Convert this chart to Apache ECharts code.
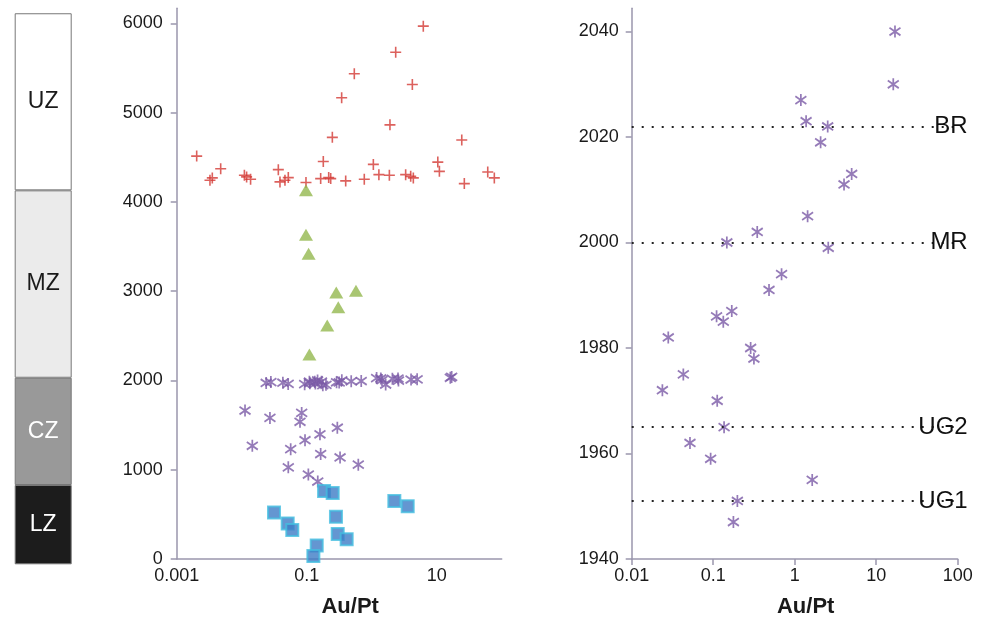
<!DOCTYPE html>
<html><head><meta charset="utf-8">
<script src="https://cdn.jsdelivr.net/npm/echarts@6/dist/echarts.min.js"></script>
<style>html,body{margin:0;padding:0;background:#fff}#c{width:987px;height:623px}</style>
</head><body><div id="c"></div>
<script>
// ---- data ----
const zoneNames = ['LZ', 'CZ', 'MZ', 'UZ'];
const zoneThickness = [880, 1190, 2080, 1965];
const zoneColors = ['#1c1c1c', '#999999', '#ebebeb', '#ffffff'];
const zoneLabelColors = ['#ffffff', '#ffffff', '#1a1a1a', '#1a1a1a'];

// Upper zone (red +)
const upperZone = [
  [0.00203, 4514], [0.00325, 4243], [0.00353, 4270], [0.00475, 4373], [0.011, 4299],
  [0.0119, 4281], [0.0137, 4254], [0.0366, 4362], [0.0388, 4225], [0.0463, 4243],
  [0.0521, 4273], [0.0975, 4218], [0.164, 4262], [0.18, 4454], [0.218, 4273],
  [0.234, 4262], [0.248, 4724], [0.345, 5168], [0.398, 4236], [0.54, 5437],
  [0.769, 4254], [1.06, 4421], [1.29, 4306], [1.87, 4299], [1.91, 4864],
  [2.34, 5678], [3.33, 4306], [3.98, 4287], [4.37, 4270], [4.22, 5316],
  [6.22, 5970], [10.4, 4447], [11.0, 4343], [24.3, 4694], [26.6, 4206],
  [61, 4336], [77, 4270]
];
// Main zone (green triangles)
const mainZone = [
  [0.0975, 4132], [0.0975, 3633], [0.107, 3419], [0.285, 2987], [0.573, 3005],
  [0.306, 2820], [0.207, 2617], [0.11, 2291]
];
// Critical zone below UG1 (purple asterisks)
const criticalZone = [
  [0.01125, 1663], [0.01456, 1268], [0.0272, 1581], [0.0567, 1231], [0.0521, 1027],
  [0.0837, 1637], [0.0789, 1537], [0.0942, 1331], [0.106, 946], [0.148, 868],
  [0.16, 1397], [0.164, 1176], [0.296, 1471], [0.326, 1138], [0.622, 1057]
];
// Upper critical zone UG1–BR interval (purple asterisks; detail on right)
const ugInterval = [
  [17.0, 2040], [16.2, 2030], [1.19, 2027], [1.38, 2023], [2.54, 2022],
  [2.08, 2019], [4.03, 2011], [5.0, 2013], [1.44, 2005], [0.347, 2002],
  [0.147, 2000], [2.58, 1999], [0.69, 1994], [0.484, 1991], [0.169, 1987],
  [0.110, 1986], [0.133, 1985], [0.0281, 1982], [0.288, 1980], [0.316, 1978],
  [0.043, 1975], [0.0238, 1972], [0.112, 1970], [0.136, 1965], [0.0519, 1962],
  [0.093, 1959], [1.64, 1955], [0.198, 1951], [0.177, 1947]
];
// Lower zone (blue squares)
const lowerZone = [
  [0.0314, 521], [0.051, 399], [0.06, 325], [0.1426, 151], [0.1267, 33],
  [0.185, 761], [0.251, 739], [0.282, 473], [0.3, 281], [0.412, 222],
  [2.23, 650], [3.58, 591]
];
const reefNames = ['BR', 'MR', 'UG2', 'UG1'];
const reefLevels = [2022, 2000, 1965, 1951];

const midYTicks = [0, 1000, 2000, 3000, 4000, 5000, 6000];
const midXLabels = [0.001, 0.1, 10];
const rightYTicks = [1940, 1960, 1980, 2000, 2020, 2040];
const xTitle = 'Au/Pt';

// ---- styles ----
const FONT = '"Liberation Sans", Arial, sans-serif';
const AXIS_COLOR = '#9a96ad';
const PURPLE = '#7a5aa6';
const STAR = 'path://M5 0L5 10M0.8 1.8L9.2 8.2M0.8 8.2L9.2 1.8';
const PLUS = 'path://M5 0L5 10M0 5L10 5';

const chart = echarts.init(document.getElementById('c'), null, {renderer: 'canvas'});

const zoneSeries = zoneNames.map((n, i) => ({
  type: 'bar', name: n, xAxisIndex: 0, yAxisIndex: 0, stack: 'zones',
  barWidth: '100%', data: [zoneThickness[i]], silent: true,
  itemStyle: {color: zoneColors[i], borderColor: '#777', borderWidth: 1},
  label: {show: true, position: 'inside', formatter: n, fontFamily: FONT,
          fontSize: 23, color: zoneLabelColors[i]}
}));

function fmtNum(v) {
  return String(Number(v.toPrecision(6)));
}
const labelStyle = {fontSize: 18, color: '#1a1a1a', fontFamily: FONT};

const option = {
  animation: false,
  backgroundColor: '#ffffff',
  textStyle: {fontFamily: FONT},
  grid: [
    {left: 14.7, width: 57, top: 8.3, bottom: 58.7},
    {left: 176.7, right: 485.3, top: 8.3, bottom: 58.7},
    {left: 631.7, right: 29.3, top: 8.3, bottom: 58}
  ],
  xAxis: [
    {gridIndex: 0, type: 'category', data: ['zones'], show: false},
    {gridIndex: 1, type: 'log', logBase: 10, min: 0.001, max: 100,
     axisLine: {lineStyle: {color: AXIS_COLOR, width: 1.5}},
     axisTick: {show: false}, splitLine: {show: false},
     axisLabel: Object.assign({margin: 8,
       formatter: v => midXLabels.some(t => Math.abs(Math.log10(v) - Math.log10(t)) < 1e-6) ? fmtNum(v) : ''}, labelStyle),
     name: xTitle, nameLocation: 'middle', nameGap: 37,
     nameTextStyle: {fontSize: 22, fontWeight: 'bold', color: '#1a1a1a', padding: [0, 0, 0, 22]}},
    {gridIndex: 2, type: 'log', logBase: 10, min: 0.01, max: 100,
     axisLine: {lineStyle: {color: AXIS_COLOR, width: 1.5}},
     axisTick: {show: true, length: 6, lineStyle: {color: AXIS_COLOR, width: 1.5}},
     splitLine: {show: false},
     axisLabel: Object.assign({margin: 8, formatter: v => fmtNum(v)}, labelStyle),
     name: xTitle, nameLocation: 'middle', nameGap: 37,
     nameTextStyle: {fontSize: 22, fontWeight: 'bold', color: '#1a1a1a', padding: [0, 0, 0, 22]}}
  ],
  yAxis: [
    {gridIndex: 0, type: 'value', min: 0, max: 6170, show: false},
    {gridIndex: 1, type: 'value', min: 0, max: 6170,
     axisLine: {show: true, lineStyle: {color: AXIS_COLOR, width: 1.5}},
     axisTick: {show: true, length: 6, customValues: midYTicks, lineStyle: {color: AXIS_COLOR, width: 1.5}},
     splitLine: {show: false},
     axisLabel: Object.assign({margin: 14, customValues: midYTicks, formatter: v => String(v)}, labelStyle)},
    {gridIndex: 2, type: 'value', min: 1940, max: 2044.4,
     axisLine: {show: true, lineStyle: {color: AXIS_COLOR, width: 1.5}},
     axisTick: {show: true, length: 6, customValues: rightYTicks, lineStyle: {color: AXIS_COLOR, width: 1.5}},
     splitLine: {show: false},
     axisLabel: Object.assign({margin: 13, customValues: rightYTicks, formatter: v => String(v)}, labelStyle)}
  ],
  series: [
    ...zoneSeries,
    {type: 'scatter', name: 'UZ', xAxisIndex: 1, yAxisIndex: 1, data: upperZone,
     symbol: PLUS, symbolSize: 11,
     itemStyle: {color: 'rgba(0,0,0,0)', borderColor: '#d33a35', borderWidth: 1.6}},
    {type: 'scatter', name: 'MZ', xAxisIndex: 1, yAxisIndex: 1, data: mainZone,
     symbol: 'triangle', symbolSize: [14, 12], itemStyle: {color: '#93b84f'}},
    {type: 'scatter', name: 'CZ', xAxisIndex: 1, yAxisIndex: 1, data: criticalZone,
     symbol: STAR, symbolSize: [11, 12],
     itemStyle: {color: 'rgba(0,0,0,0)', borderColor: PURPLE, borderWidth: 1.8}},
    {type: 'scatter', name: 'UCZ', xAxisIndex: 1, yAxisIndex: 1, data: ugInterval,
     symbol: STAR, symbolSize: [11, 12],
     itemStyle: {color: 'rgba(0,0,0,0)', borderColor: PURPLE, borderWidth: 1.8}},
    {type: 'scatter', name: 'LZ', xAxisIndex: 1, yAxisIndex: 1, data: lowerZone,
     symbol: 'rect', symbolSize: 12,
     itemStyle: {color: '#3d7cc6', borderColor: '#44bde0', borderWidth: 2}},
    {type: 'scatter', name: 'UCZ detail', xAxisIndex: 2, yAxisIndex: 2, data: ugInterval,
     symbol: STAR, symbolSize: [11, 12],
     itemStyle: {color: 'rgba(0,0,0,0)', borderColor: PURPLE, borderWidth: 1.8},
     markLine: {
       silent: true, symbol: 'none', animation: false,
       lineStyle: {color: '#222', type: [2, 8], width: 2},
       label: {show: true, position: 'insideEnd', distance: -10, formatter: '{b}',
               fontSize: 24, color: '#111', fontFamily: FONT},
       data: reefNames.map((n, i) => [
         {coord: [0.01, reefLevels[i]], name: n},
         {coord: [100, reefLevels[i]]}
       ])
     }}
  ]
};
chart.setOption(option);
</script>
</body></html>
